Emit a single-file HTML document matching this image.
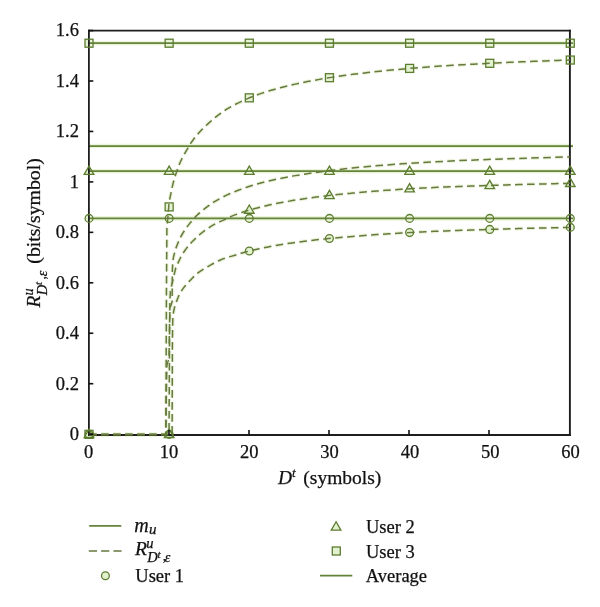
<!DOCTYPE html>
<html><head><meta charset="utf-8"><style>
html,body{margin:0;padding:0;background:#fff;}
svg{display:block;will-change:transform;}
text{font-family:"Liberation Serif",serif;font-size:18.5px;fill:#111;stroke:#111;stroke-width:0.25px;}
</style></head><body>
<svg width="600" height="607" viewBox="0 0 600 607">
<rect width="600" height="607" fill="#fff"/>
<rect x="85.00" y="39.20" width="8.0" height="8.0" fill="#e2f2cf" stroke="none" stroke-width="0"/>
<path d="M89.00,166.05 L93.80,174.36 L84.20,174.36 Z" fill="#e2f2cf" stroke="none" stroke-width="0"/>
<circle cx="89.00" cy="218.40" r="3.9" fill="#e2f2cf" stroke="none" stroke-width="0"/>
<rect x="85.00" y="430.35" width="8.0" height="8.0" fill="#e2f2cf" stroke="none" stroke-width="0"/>
<path d="M89.00,429.20 L93.80,437.51 L84.20,437.51 Z" fill="#e2f2cf" stroke="none" stroke-width="0"/>
<circle cx="89.00" cy="434.35" r="3.9" fill="#e2f2cf" stroke="none" stroke-width="0"/>
<rect x="165.15" y="39.20" width="8.0" height="8.0" fill="#e2f2cf" stroke="none" stroke-width="0"/>
<path d="M169.15,166.05 L173.95,174.36 L164.35,174.36 Z" fill="#e2f2cf" stroke="none" stroke-width="0"/>
<circle cx="169.15" cy="218.40" r="3.9" fill="#e2f2cf" stroke="none" stroke-width="0"/>
<rect x="165.15" y="202.90" width="8.0" height="8.0" fill="#e2f2cf" stroke="none" stroke-width="0"/>
<path d="M169.15,429.20 L173.95,437.51 L164.35,437.51 Z" fill="#e2f2cf" stroke="none" stroke-width="0"/>
<circle cx="169.15" cy="434.35" r="3.9" fill="#e2f2cf" stroke="none" stroke-width="0"/>
<rect x="245.30" y="39.20" width="8.0" height="8.0" fill="#e2f2cf" stroke="none" stroke-width="0"/>
<path d="M249.30,166.05 L254.10,174.36 L244.50,174.36 Z" fill="#e2f2cf" stroke="none" stroke-width="0"/>
<circle cx="249.30" cy="218.40" r="3.9" fill="#e2f2cf" stroke="none" stroke-width="0"/>
<rect x="245.30" y="93.83" width="8.0" height="8.0" fill="#e2f2cf" stroke="none" stroke-width="0"/>
<path d="M249.30,204.95 L254.10,213.27 L244.50,213.27 Z" fill="#e2f2cf" stroke="none" stroke-width="0"/>
<circle cx="249.30" cy="251.01" r="3.9" fill="#e2f2cf" stroke="none" stroke-width="0"/>
<rect x="325.45" y="39.20" width="8.0" height="8.0" fill="#e2f2cf" stroke="none" stroke-width="0"/>
<path d="M329.45,166.05 L334.25,174.36 L324.65,174.36 Z" fill="#e2f2cf" stroke="none" stroke-width="0"/>
<circle cx="329.45" cy="218.40" r="3.9" fill="#e2f2cf" stroke="none" stroke-width="0"/>
<rect x="325.45" y="73.70" width="8.0" height="8.0" fill="#e2f2cf" stroke="none" stroke-width="0"/>
<path d="M329.45,190.34 L334.25,198.66 L324.65,198.66 Z" fill="#e2f2cf" stroke="none" stroke-width="0"/>
<circle cx="329.45" cy="238.50" r="3.9" fill="#e2f2cf" stroke="none" stroke-width="0"/>
<rect x="405.60" y="39.20" width="8.0" height="8.0" fill="#e2f2cf" stroke="none" stroke-width="0"/>
<path d="M409.60,166.05 L414.40,174.36 L404.80,174.36 Z" fill="#e2f2cf" stroke="none" stroke-width="0"/>
<circle cx="409.60" cy="218.40" r="3.9" fill="#e2f2cf" stroke="none" stroke-width="0"/>
<rect x="405.60" y="64.41" width="8.0" height="8.0" fill="#e2f2cf" stroke="none" stroke-width="0"/>
<path d="M409.60,183.63 L414.40,191.94 L404.80,191.94 Z" fill="#e2f2cf" stroke="none" stroke-width="0"/>
<circle cx="409.60" cy="232.58" r="3.9" fill="#e2f2cf" stroke="none" stroke-width="0"/>
<rect x="485.75" y="39.20" width="8.0" height="8.0" fill="#e2f2cf" stroke="none" stroke-width="0"/>
<path d="M489.75,166.05 L494.55,174.36 L484.95,174.36 Z" fill="#e2f2cf" stroke="none" stroke-width="0"/>
<circle cx="489.75" cy="218.40" r="3.9" fill="#e2f2cf" stroke="none" stroke-width="0"/>
<rect x="485.75" y="59.30" width="8.0" height="8.0" fill="#e2f2cf" stroke="none" stroke-width="0"/>
<path d="M489.75,180.31 L494.55,188.62 L484.95,188.62 Z" fill="#e2f2cf" stroke="none" stroke-width="0"/>
<circle cx="489.75" cy="229.41" r="3.9" fill="#e2f2cf" stroke="none" stroke-width="0"/>
<rect x="566.30" y="39.20" width="8.0" height="8.0" fill="#e2f2cf" stroke="none" stroke-width="0"/>
<path d="M570.30,166.05 L575.10,174.36 L565.50,174.36 Z" fill="#e2f2cf" stroke="none" stroke-width="0"/>
<circle cx="570.30" cy="218.40" r="3.9" fill="#e2f2cf" stroke="none" stroke-width="0"/>
<rect x="566.30" y="56.03" width="8.0" height="8.0" fill="#e2f2cf" stroke="none" stroke-width="0"/>
<path d="M570.30,178.18 L575.10,186.49 L565.50,186.49 Z" fill="#e2f2cf" stroke="none" stroke-width="0"/>
<circle cx="570.30" cy="227.40" r="3.9" fill="#e2f2cf" stroke="none" stroke-width="0"/>
<circle cx="105.40" cy="575.70" r="3.9" fill="#e2f2cf" stroke="none" stroke-width="0"/>
<path d="M336.10,521.75 L340.90,530.06 L331.30,530.06 Z" fill="#e2f2cf" stroke="none" stroke-width="0"/>
<rect x="332.30" y="547.00" width="8.0" height="8.0" fill="#e2f2cf" stroke="none" stroke-width="0"/>
<line x1="89.0" y1="43.20" x2="573" y2="43.20" stroke="#ecf4dc" stroke-width="4.6"/>
<line x1="89.0" y1="146.00" x2="573" y2="146.00" stroke="#ecf4dc" stroke-width="4.6"/>
<line x1="89.0" y1="171.20" x2="573" y2="171.20" stroke="#ecf4dc" stroke-width="4.6"/>
<line x1="89.0" y1="218.40" x2="573" y2="218.40" stroke="#ecf4dc" stroke-width="4.6"/>
<path d="M89.00,434.55 L165.90,434.55 L166.40,300.00 L166.90,228.00 L168.30,213.00 L168.70,207.00 L169.00,202.80 L170.03,197.70 L171.06,192.69 L172.09,187.62 L173.13,183.20 L174.16,179.32 L175.19,175.89 L176.22,172.89 L177.25,169.97 L178.28,167.20 L179.31,164.56 L180.35,162.07 L181.38,159.75 L182.41,157.74 L183.44,155.85 L184.47,153.93 L185.50,152.09 L186.53,150.29 L187.57,148.51 L188.60,146.73 L189.63,145.04 L190.66,143.44 L191.69,141.92 L192.72,140.46 L193.75,139.05 L194.79,137.71 L195.82,136.43 L196.85,135.17 L197.88,133.96 L198.91,132.78 L199.94,131.64 L200.97,130.54 L202.01,129.48 L203.04,128.46 L204.07,127.46 L205.10,126.47 L206.13,125.48 L207.16,124.52 L208.19,123.59 L209.23,122.67 L210.83,121.22 L213.85,118.58 L216.86,116.16 L219.88,113.91 L222.90,111.76 L225.92,109.67 L228.93,107.82 L231.95,106.12 L234.97,104.55 L237.98,103.07 L241.00,101.67 L244.02,100.33 L247.04,98.85 L250.05,97.52 L253.07,96.35 L256.09,95.24 L259.11,94.16 L262.12,93.14 L265.14,92.15 L268.16,91.21 L271.18,90.30 L274.19,89.43 L277.21,88.59 L280.23,87.78 L283.25,86.99 L286.26,86.24 L289.28,85.51 L292.30,84.80 L295.32,84.12 L298.33,83.46 L301.35,82.82 L304.37,82.20 L307.39,81.60 L310.40,81.02 L313.42,80.45 L316.44,79.90 L319.45,79.37 L322.47,78.85 L325.49,78.34 L328.51,77.85 L331.52,77.37 L334.54,76.90 L337.56,76.45 L340.58,76.01 L343.59,75.58 L346.61,75.16 L349.63,74.76 L352.65,74.36 L355.66,73.98 L358.68,73.60 L361.70,73.23 L364.72,72.88 L367.73,72.53 L370.75,72.19 L373.77,71.85 L376.79,71.53 L379.80,71.21 L382.82,70.90 L385.84,70.59 L388.86,70.30 L391.87,70.01 L394.89,69.72 L397.91,69.44 L400.92,69.17 L403.94,68.90 L406.96,68.63 L409.98,68.38 L412.99,68.12 L416.01,67.88 L419.03,67.64 L422.05,67.40 L425.06,67.18 L428.08,66.95 L431.10,66.74 L434.12,66.52 L437.13,66.32 L440.15,66.12 L443.17,65.92 L446.19,65.72 L449.20,65.53 L452.22,65.35 L455.24,65.17 L458.26,64.99 L461.27,64.81 L464.29,64.64 L467.31,64.47 L470.33,64.31 L473.34,64.14 L476.36,63.98 L479.38,63.83 L482.40,63.67 L485.41,63.51 L488.43,63.36 L491.45,63.21 L494.46,63.06 L497.48,62.92 L500.50,62.77 L503.52,62.63 L506.53,62.49 L509.55,62.36 L512.57,62.22 L515.59,62.09 L518.60,61.96 L521.62,61.83 L524.64,61.71 L527.66,61.58 L530.67,61.46 L533.69,61.34 L536.71,61.22 L539.73,61.10 L542.74,60.99 L545.76,60.88 L548.78,60.76 L551.80,60.66 L554.81,60.55 L557.83,60.44 L560.85,60.34 L563.87,60.23 L566.88,60.13 L569.90,60.03" fill="none" stroke="#eaf3d8" stroke-width="3.8" stroke-dasharray="7.6 4.4"/>
<path d="M89.00,434.55 L169.00,434.55 L169.60,330.00 L169.90,300.00 L170.40,291.10 L171.40,286.50 L172.60,281.50 L174.40,273.50 L175.80,267.79 L176.66,265.84 L177.51,263.95 L178.37,262.11 L179.23,260.32 L180.09,258.52 L180.94,256.89 L181.80,255.39 L182.66,253.96 L183.51,252.60 L184.37,251.29 L185.23,250.05 L186.08,248.88 L186.94,247.75 L187.80,246.67 L188.66,245.63 L189.51,244.62 L190.37,243.66 L191.23,242.72 L192.08,241.81 L192.94,240.94 L193.80,240.10 L194.66,239.27 L195.51,238.44 L196.37,237.62 L197.23,236.81 L198.08,236.02 L198.94,235.25 L199.80,234.50 L200.65,233.78 L201.51,233.07 L202.37,232.39 L203.23,231.72 L204.08,231.07 L204.94,230.45 L205.80,229.84 L206.65,229.24 L207.51,228.66 L208.37,228.09 L209.23,227.52 L210.83,226.45 L213.85,224.60 L216.86,223.01 L219.88,221.59 L222.90,220.37 L225.92,218.97 L228.93,217.58 L231.95,216.15 L234.97,214.91 L237.98,213.79 L241.00,212.74 L244.02,211.74 L247.04,210.79 L250.05,209.89 L253.07,209.03 L256.09,208.21 L259.11,207.42 L262.12,206.67 L265.14,205.95 L268.16,205.26 L271.18,204.60 L274.19,203.97 L277.21,203.35 L280.23,202.76 L283.25,202.19 L286.26,201.65 L289.28,201.12 L292.30,200.61 L295.32,200.11 L298.33,199.64 L301.35,199.17 L304.37,198.73 L307.39,198.29 L310.40,197.87 L313.42,197.47 L316.44,197.07 L319.45,196.69 L322.47,196.32 L325.49,195.96 L328.51,195.60 L331.52,195.26 L334.54,194.93 L337.56,194.61 L340.58,194.29 L343.59,193.98 L346.61,193.68 L349.63,193.39 L352.65,193.10 L355.66,192.82 L358.68,192.55 L361.70,192.29 L364.72,192.03 L367.73,191.77 L370.75,191.52 L373.77,191.28 L376.79,191.04 L379.80,190.81 L382.82,190.59 L385.84,190.36 L388.86,190.15 L391.87,189.94 L394.89,189.73 L397.91,189.53 L400.92,189.33 L403.94,189.13 L406.96,188.95 L409.98,188.76 L412.99,188.58 L416.01,188.41 L419.03,188.24 L422.05,188.08 L425.06,187.93 L428.08,187.78 L431.10,187.63 L434.12,187.50 L437.13,187.36 L440.15,187.23 L443.17,187.10 L446.19,186.98 L449.20,186.86 L452.22,186.75 L455.24,186.63 L458.26,186.52 L461.27,186.41 L464.29,186.31 L467.31,186.20 L470.33,186.10 L473.34,186.00 L476.36,185.90 L479.38,185.80 L482.40,185.70 L485.41,185.61 L488.43,185.51 L491.45,185.41 L494.46,185.31 L497.48,185.22 L500.50,185.13 L503.52,185.03 L506.53,184.94 L509.55,184.86 L512.57,184.77 L515.59,184.68 L518.60,184.60 L521.62,184.51 L524.64,184.43 L527.66,184.35 L530.67,184.27 L533.69,184.19 L536.71,184.12 L539.73,184.04 L542.74,183.96 L545.76,183.89 L548.78,183.82 L551.80,183.75 L554.81,183.67 L557.83,183.60 L560.85,183.54 L563.87,183.47 L566.88,183.40 L569.90,183.33" fill="none" stroke="#eaf3d8" stroke-width="3.8" stroke-dasharray="7.6 4.4"/>
<path d="M89.00,434.55 L172.10,434.55 L172.40,340.00 L172.80,318.00 L173.60,311.50 L174.70,306.76 L175.59,304.10 L176.47,301.61 L177.36,299.25 L178.24,297.04 L179.13,295.20 L180.01,293.52 L180.90,291.95 L181.78,290.47 L182.67,289.07 L183.55,287.86 L184.44,286.82 L185.32,285.80 L186.21,284.75 L187.09,283.74 L187.98,282.77 L188.86,281.81 L189.75,280.86 L190.63,279.90 L191.52,278.95 L192.41,278.03 L193.29,277.15 L194.18,276.30 L195.06,275.47 L195.95,274.68 L196.83,273.91 L197.72,273.17 L198.60,272.47 L199.49,271.82 L200.37,271.21 L201.26,270.63 L202.14,270.06 L203.03,269.49 L203.91,268.93 L204.80,268.38 L205.68,267.85 L206.57,267.33 L207.45,266.82 L208.34,266.31 L209.23,265.82 L210.83,264.90 L213.85,263.23 L216.86,261.67 L219.88,260.22 L222.90,258.89 L225.92,257.83 L228.93,256.94 L231.95,256.11 L234.97,255.22 L237.98,254.27 L241.00,253.34 L244.02,252.44 L247.04,251.60 L250.05,250.83 L253.07,250.10 L256.09,249.40 L259.11,248.73 L262.12,248.09 L265.14,247.48 L268.16,246.89 L271.18,246.33 L274.19,245.78 L277.21,245.26 L280.23,244.75 L283.25,244.26 L286.26,243.79 L289.28,243.34 L292.30,242.90 L295.32,242.48 L298.33,242.07 L301.35,241.67 L304.37,241.28 L307.39,240.91 L310.40,240.55 L313.42,240.20 L316.44,239.86 L319.45,239.53 L322.47,239.21 L325.49,238.89 L328.51,238.59 L331.52,238.30 L334.54,238.01 L337.56,237.73 L340.58,237.46 L343.59,237.19 L346.61,236.93 L349.63,236.67 L352.65,236.42 L355.66,236.18 L358.68,235.94 L361.70,235.71 L364.72,235.48 L367.73,235.26 L370.75,235.04 L373.77,234.82 L376.79,234.61 L379.80,234.41 L382.82,234.21 L385.84,234.01 L388.86,233.81 L391.87,233.62 L394.89,233.44 L397.91,233.25 L400.92,233.07 L403.94,232.90 L406.96,232.72 L409.98,232.55 L412.99,232.39 L416.01,232.23 L419.03,232.08 L422.05,231.93 L425.06,231.78 L428.08,231.64 L431.10,231.50 L434.12,231.37 L437.13,231.24 L440.15,231.12 L443.17,231.00 L446.19,230.88 L449.20,230.77 L452.22,230.65 L455.24,230.54 L458.26,230.44 L461.27,230.33 L464.29,230.23 L467.31,230.13 L470.33,230.03 L473.34,229.93 L476.36,229.83 L479.38,229.74 L482.40,229.64 L485.41,229.55 L488.43,229.45 L491.45,229.36 L494.46,229.27 L497.48,229.18 L500.50,229.09 L503.52,229.00 L506.53,228.91 L509.55,228.83 L512.57,228.75 L515.59,228.66 L518.60,228.58 L521.62,228.51 L524.64,228.43 L527.66,228.35 L530.67,228.28 L533.69,228.20 L536.71,228.13 L539.73,228.06 L542.74,227.99 L545.76,227.92 L548.78,227.85 L551.80,227.78 L554.81,227.71 L557.83,227.65 L560.85,227.59 L563.87,227.52 L566.88,227.46 L569.90,227.40" fill="none" stroke="#eaf3d8" stroke-width="3.8" stroke-dasharray="7.6 4.4"/>
<path d="M89.00,434.55 L165.86,434.55 L166.38,390.79 L166.91,365.41 L168.31,360.39 L168.99,357.08 L169.59,321.87 L169.91,310.75 L170.39,307.11 L172.08,301.85 L172.40,269.95 L172.80,261.12 L173.60,256.65 L174.68,252.24 L175.80,248.44 L178.05,242.70 L180.01,238.35 L181.61,235.24 L183.58,231.97 L186.18,228.14 L189.15,224.12 L191.91,220.71 L194.44,217.90 L197.68,214.59 L200.61,211.93 L205.38,208.12 L211.11,203.99 L214.11,201.96 L217.68,199.80 L220.93,198.02 L226.58,195.17 L232.27,192.66 L237.56,190.54 L248.90,186.44 L255.59,184.42 L262.64,182.50 L269.82,180.73 L277.35,179.04 L293.62,175.87 L311.58,172.97 L331.33,170.33 L352.45,167.98 L375.58,165.83 L401.87,163.79 L427.15,162.18 L455.93,160.75 L494.60,159.21 L530.67,158.00 L569.90,156.92" fill="none" stroke="#eaf3d8" stroke-width="3.8" stroke-dasharray="7.6 4.4"/>
<line x1="89.0" y1="43.20" x2="573" y2="43.20" stroke="#64843a" stroke-width="1.75"/>
<line x1="89.0" y1="146.00" x2="573" y2="146.00" stroke="#64843a" stroke-width="1.75"/>
<line x1="89.0" y1="171.20" x2="573" y2="171.20" stroke="#64843a" stroke-width="1.75"/>
<line x1="89.0" y1="218.40" x2="573" y2="218.40" stroke="#64843a" stroke-width="1.75"/>
<line x1="88.9" y1="29.8" x2="88.9" y2="435.9" stroke="#1e1e1e" stroke-width="1.8"/><line x1="569.9" y1="29.8" x2="569.9" y2="435.9" stroke="#1e1e1e" stroke-width="1.9"/><line x1="88.0" y1="30.6" x2="570.85" y2="30.6" stroke="#1e1e1e" stroke-width="1.6"/><line x1="88.0" y1="434.95" x2="570.85" y2="434.95" stroke="#1e1e1e" stroke-width="1.9"/>
<path d="M89.00,434.55 L165.90,434.55 L166.40,300.00 L166.90,228.00 L168.30,213.00 L168.70,207.00 L169.00,202.80 L170.03,197.70 L171.06,192.69 L172.09,187.62 L173.13,183.20 L174.16,179.32 L175.19,175.89 L176.22,172.89 L177.25,169.97 L178.28,167.20 L179.31,164.56 L180.35,162.07 L181.38,159.75 L182.41,157.74 L183.44,155.85 L184.47,153.93 L185.50,152.09 L186.53,150.29 L187.57,148.51 L188.60,146.73 L189.63,145.04 L190.66,143.44 L191.69,141.92 L192.72,140.46 L193.75,139.05 L194.79,137.71 L195.82,136.43 L196.85,135.17 L197.88,133.96 L198.91,132.78 L199.94,131.64 L200.97,130.54 L202.01,129.48 L203.04,128.46 L204.07,127.46 L205.10,126.47 L206.13,125.48 L207.16,124.52 L208.19,123.59 L209.23,122.67 L210.83,121.22 L213.85,118.58 L216.86,116.16 L219.88,113.91 L222.90,111.76 L225.92,109.67 L228.93,107.82 L231.95,106.12 L234.97,104.55 L237.98,103.07 L241.00,101.67 L244.02,100.33 L247.04,98.85 L250.05,97.52 L253.07,96.35 L256.09,95.24 L259.11,94.16 L262.12,93.14 L265.14,92.15 L268.16,91.21 L271.18,90.30 L274.19,89.43 L277.21,88.59 L280.23,87.78 L283.25,86.99 L286.26,86.24 L289.28,85.51 L292.30,84.80 L295.32,84.12 L298.33,83.46 L301.35,82.82 L304.37,82.20 L307.39,81.60 L310.40,81.02 L313.42,80.45 L316.44,79.90 L319.45,79.37 L322.47,78.85 L325.49,78.34 L328.51,77.85 L331.52,77.37 L334.54,76.90 L337.56,76.45 L340.58,76.01 L343.59,75.58 L346.61,75.16 L349.63,74.76 L352.65,74.36 L355.66,73.98 L358.68,73.60 L361.70,73.23 L364.72,72.88 L367.73,72.53 L370.75,72.19 L373.77,71.85 L376.79,71.53 L379.80,71.21 L382.82,70.90 L385.84,70.59 L388.86,70.30 L391.87,70.01 L394.89,69.72 L397.91,69.44 L400.92,69.17 L403.94,68.90 L406.96,68.63 L409.98,68.38 L412.99,68.12 L416.01,67.88 L419.03,67.64 L422.05,67.40 L425.06,67.18 L428.08,66.95 L431.10,66.74 L434.12,66.52 L437.13,66.32 L440.15,66.12 L443.17,65.92 L446.19,65.72 L449.20,65.53 L452.22,65.35 L455.24,65.17 L458.26,64.99 L461.27,64.81 L464.29,64.64 L467.31,64.47 L470.33,64.31 L473.34,64.14 L476.36,63.98 L479.38,63.83 L482.40,63.67 L485.41,63.51 L488.43,63.36 L491.45,63.21 L494.46,63.06 L497.48,62.92 L500.50,62.77 L503.52,62.63 L506.53,62.49 L509.55,62.36 L512.57,62.22 L515.59,62.09 L518.60,61.96 L521.62,61.83 L524.64,61.71 L527.66,61.58 L530.67,61.46 L533.69,61.34 L536.71,61.22 L539.73,61.10 L542.74,60.99 L545.76,60.88 L548.78,60.76 L551.80,60.66 L554.81,60.55 L557.83,60.44 L560.85,60.34 L563.87,60.23 L566.88,60.13 L569.90,60.03" fill="none" stroke="#66793f" stroke-width="1.5" stroke-dasharray="7.6 4.4"/>
<path d="M89.00,434.55 L169.00,434.55 L169.60,330.00 L169.90,300.00 L170.40,291.10 L171.40,286.50 L172.60,281.50 L174.40,273.50 L175.80,267.79 L176.66,265.84 L177.51,263.95 L178.37,262.11 L179.23,260.32 L180.09,258.52 L180.94,256.89 L181.80,255.39 L182.66,253.96 L183.51,252.60 L184.37,251.29 L185.23,250.05 L186.08,248.88 L186.94,247.75 L187.80,246.67 L188.66,245.63 L189.51,244.62 L190.37,243.66 L191.23,242.72 L192.08,241.81 L192.94,240.94 L193.80,240.10 L194.66,239.27 L195.51,238.44 L196.37,237.62 L197.23,236.81 L198.08,236.02 L198.94,235.25 L199.80,234.50 L200.65,233.78 L201.51,233.07 L202.37,232.39 L203.23,231.72 L204.08,231.07 L204.94,230.45 L205.80,229.84 L206.65,229.24 L207.51,228.66 L208.37,228.09 L209.23,227.52 L210.83,226.45 L213.85,224.60 L216.86,223.01 L219.88,221.59 L222.90,220.37 L225.92,218.97 L228.93,217.58 L231.95,216.15 L234.97,214.91 L237.98,213.79 L241.00,212.74 L244.02,211.74 L247.04,210.79 L250.05,209.89 L253.07,209.03 L256.09,208.21 L259.11,207.42 L262.12,206.67 L265.14,205.95 L268.16,205.26 L271.18,204.60 L274.19,203.97 L277.21,203.35 L280.23,202.76 L283.25,202.19 L286.26,201.65 L289.28,201.12 L292.30,200.61 L295.32,200.11 L298.33,199.64 L301.35,199.17 L304.37,198.73 L307.39,198.29 L310.40,197.87 L313.42,197.47 L316.44,197.07 L319.45,196.69 L322.47,196.32 L325.49,195.96 L328.51,195.60 L331.52,195.26 L334.54,194.93 L337.56,194.61 L340.58,194.29 L343.59,193.98 L346.61,193.68 L349.63,193.39 L352.65,193.10 L355.66,192.82 L358.68,192.55 L361.70,192.29 L364.72,192.03 L367.73,191.77 L370.75,191.52 L373.77,191.28 L376.79,191.04 L379.80,190.81 L382.82,190.59 L385.84,190.36 L388.86,190.15 L391.87,189.94 L394.89,189.73 L397.91,189.53 L400.92,189.33 L403.94,189.13 L406.96,188.95 L409.98,188.76 L412.99,188.58 L416.01,188.41 L419.03,188.24 L422.05,188.08 L425.06,187.93 L428.08,187.78 L431.10,187.63 L434.12,187.50 L437.13,187.36 L440.15,187.23 L443.17,187.10 L446.19,186.98 L449.20,186.86 L452.22,186.75 L455.24,186.63 L458.26,186.52 L461.27,186.41 L464.29,186.31 L467.31,186.20 L470.33,186.10 L473.34,186.00 L476.36,185.90 L479.38,185.80 L482.40,185.70 L485.41,185.61 L488.43,185.51 L491.45,185.41 L494.46,185.31 L497.48,185.22 L500.50,185.13 L503.52,185.03 L506.53,184.94 L509.55,184.86 L512.57,184.77 L515.59,184.68 L518.60,184.60 L521.62,184.51 L524.64,184.43 L527.66,184.35 L530.67,184.27 L533.69,184.19 L536.71,184.12 L539.73,184.04 L542.74,183.96 L545.76,183.89 L548.78,183.82 L551.80,183.75 L554.81,183.67 L557.83,183.60 L560.85,183.54 L563.87,183.47 L566.88,183.40 L569.90,183.33" fill="none" stroke="#66793f" stroke-width="1.5" stroke-dasharray="7.6 4.4"/>
<path d="M89.00,434.55 L172.10,434.55 L172.40,340.00 L172.80,318.00 L173.60,311.50 L174.70,306.76 L175.59,304.10 L176.47,301.61 L177.36,299.25 L178.24,297.04 L179.13,295.20 L180.01,293.52 L180.90,291.95 L181.78,290.47 L182.67,289.07 L183.55,287.86 L184.44,286.82 L185.32,285.80 L186.21,284.75 L187.09,283.74 L187.98,282.77 L188.86,281.81 L189.75,280.86 L190.63,279.90 L191.52,278.95 L192.41,278.03 L193.29,277.15 L194.18,276.30 L195.06,275.47 L195.95,274.68 L196.83,273.91 L197.72,273.17 L198.60,272.47 L199.49,271.82 L200.37,271.21 L201.26,270.63 L202.14,270.06 L203.03,269.49 L203.91,268.93 L204.80,268.38 L205.68,267.85 L206.57,267.33 L207.45,266.82 L208.34,266.31 L209.23,265.82 L210.83,264.90 L213.85,263.23 L216.86,261.67 L219.88,260.22 L222.90,258.89 L225.92,257.83 L228.93,256.94 L231.95,256.11 L234.97,255.22 L237.98,254.27 L241.00,253.34 L244.02,252.44 L247.04,251.60 L250.05,250.83 L253.07,250.10 L256.09,249.40 L259.11,248.73 L262.12,248.09 L265.14,247.48 L268.16,246.89 L271.18,246.33 L274.19,245.78 L277.21,245.26 L280.23,244.75 L283.25,244.26 L286.26,243.79 L289.28,243.34 L292.30,242.90 L295.32,242.48 L298.33,242.07 L301.35,241.67 L304.37,241.28 L307.39,240.91 L310.40,240.55 L313.42,240.20 L316.44,239.86 L319.45,239.53 L322.47,239.21 L325.49,238.89 L328.51,238.59 L331.52,238.30 L334.54,238.01 L337.56,237.73 L340.58,237.46 L343.59,237.19 L346.61,236.93 L349.63,236.67 L352.65,236.42 L355.66,236.18 L358.68,235.94 L361.70,235.71 L364.72,235.48 L367.73,235.26 L370.75,235.04 L373.77,234.82 L376.79,234.61 L379.80,234.41 L382.82,234.21 L385.84,234.01 L388.86,233.81 L391.87,233.62 L394.89,233.44 L397.91,233.25 L400.92,233.07 L403.94,232.90 L406.96,232.72 L409.98,232.55 L412.99,232.39 L416.01,232.23 L419.03,232.08 L422.05,231.93 L425.06,231.78 L428.08,231.64 L431.10,231.50 L434.12,231.37 L437.13,231.24 L440.15,231.12 L443.17,231.00 L446.19,230.88 L449.20,230.77 L452.22,230.65 L455.24,230.54 L458.26,230.44 L461.27,230.33 L464.29,230.23 L467.31,230.13 L470.33,230.03 L473.34,229.93 L476.36,229.83 L479.38,229.74 L482.40,229.64 L485.41,229.55 L488.43,229.45 L491.45,229.36 L494.46,229.27 L497.48,229.18 L500.50,229.09 L503.52,229.00 L506.53,228.91 L509.55,228.83 L512.57,228.75 L515.59,228.66 L518.60,228.58 L521.62,228.51 L524.64,228.43 L527.66,228.35 L530.67,228.28 L533.69,228.20 L536.71,228.13 L539.73,228.06 L542.74,227.99 L545.76,227.92 L548.78,227.85 L551.80,227.78 L554.81,227.71 L557.83,227.65 L560.85,227.59 L563.87,227.52 L566.88,227.46 L569.90,227.40" fill="none" stroke="#66793f" stroke-width="1.5" stroke-dasharray="7.6 4.4"/>
<path d="M89.00,434.55 L165.86,434.55 L166.38,390.79 L166.91,365.41 L168.31,360.39 L168.99,357.08 L169.59,321.87 L169.91,310.75 L170.39,307.11 L172.08,301.85 L172.40,269.95 L172.80,261.12 L173.60,256.65 L174.68,252.24 L175.80,248.44 L178.05,242.70 L180.01,238.35 L181.61,235.24 L183.58,231.97 L186.18,228.14 L189.15,224.12 L191.91,220.71 L194.44,217.90 L197.68,214.59 L200.61,211.93 L205.38,208.12 L211.11,203.99 L214.11,201.96 L217.68,199.80 L220.93,198.02 L226.58,195.17 L232.27,192.66 L237.56,190.54 L248.90,186.44 L255.59,184.42 L262.64,182.50 L269.82,180.73 L277.35,179.04 L293.62,175.87 L311.58,172.97 L331.33,170.33 L352.45,167.98 L375.58,165.83 L401.87,163.79 L427.15,162.18 L455.93,160.75 L494.60,159.21 L530.67,158.00 L569.90,156.92" fill="none" stroke="#66793f" stroke-width="1.5" stroke-dasharray="7.6 4.4"/>
<rect x="85.00" y="39.20" width="8.0" height="8.0" fill="none" stroke="#5c7c30" stroke-width="1.3"/>
<path d="M89.00,166.05 L93.80,174.36 L84.20,174.36 Z" fill="none" stroke="#5c7c30" stroke-width="1.3"/>
<circle cx="89.00" cy="218.40" r="3.9" fill="none" stroke="#5c7c30" stroke-width="1.3"/>
<rect x="85.00" y="430.35" width="8.0" height="8.0" fill="none" stroke="#5c7c30" stroke-width="1.3"/>
<path d="M89.00,429.20 L93.80,437.51 L84.20,437.51 Z" fill="none" stroke="#5c7c30" stroke-width="1.3"/>
<circle cx="89.00" cy="434.35" r="3.9" fill="none" stroke="#5c7c30" stroke-width="1.3"/>
<rect x="165.15" y="39.20" width="8.0" height="8.0" fill="none" stroke="#5c7c30" stroke-width="1.3"/>
<path d="M169.15,166.05 L173.95,174.36 L164.35,174.36 Z" fill="none" stroke="#5c7c30" stroke-width="1.3"/>
<circle cx="169.15" cy="218.40" r="3.9" fill="none" stroke="#5c7c30" stroke-width="1.3"/>
<rect x="165.15" y="202.90" width="8.0" height="8.0" fill="none" stroke="#5c7c30" stroke-width="1.3"/>
<path d="M169.15,429.20 L173.95,437.51 L164.35,437.51 Z" fill="none" stroke="#5c7c30" stroke-width="1.3"/>
<circle cx="169.15" cy="434.35" r="3.9" fill="none" stroke="#5c7c30" stroke-width="1.3"/>
<rect x="245.30" y="39.20" width="8.0" height="8.0" fill="none" stroke="#5c7c30" stroke-width="1.3"/>
<path d="M249.30,166.05 L254.10,174.36 L244.50,174.36 Z" fill="none" stroke="#5c7c30" stroke-width="1.3"/>
<circle cx="249.30" cy="218.40" r="3.9" fill="none" stroke="#5c7c30" stroke-width="1.3"/>
<rect x="245.30" y="93.83" width="8.0" height="8.0" fill="none" stroke="#5c7c30" stroke-width="1.3"/>
<path d="M249.30,204.95 L254.10,213.27 L244.50,213.27 Z" fill="none" stroke="#5c7c30" stroke-width="1.3"/>
<circle cx="249.30" cy="251.01" r="3.9" fill="none" stroke="#5c7c30" stroke-width="1.3"/>
<rect x="325.45" y="39.20" width="8.0" height="8.0" fill="none" stroke="#5c7c30" stroke-width="1.3"/>
<path d="M329.45,166.05 L334.25,174.36 L324.65,174.36 Z" fill="none" stroke="#5c7c30" stroke-width="1.3"/>
<circle cx="329.45" cy="218.40" r="3.9" fill="none" stroke="#5c7c30" stroke-width="1.3"/>
<rect x="325.45" y="73.70" width="8.0" height="8.0" fill="none" stroke="#5c7c30" stroke-width="1.3"/>
<path d="M329.45,190.34 L334.25,198.66 L324.65,198.66 Z" fill="none" stroke="#5c7c30" stroke-width="1.3"/>
<circle cx="329.45" cy="238.50" r="3.9" fill="none" stroke="#5c7c30" stroke-width="1.3"/>
<rect x="405.60" y="39.20" width="8.0" height="8.0" fill="none" stroke="#5c7c30" stroke-width="1.3"/>
<path d="M409.60,166.05 L414.40,174.36 L404.80,174.36 Z" fill="none" stroke="#5c7c30" stroke-width="1.3"/>
<circle cx="409.60" cy="218.40" r="3.9" fill="none" stroke="#5c7c30" stroke-width="1.3"/>
<rect x="405.60" y="64.41" width="8.0" height="8.0" fill="none" stroke="#5c7c30" stroke-width="1.3"/>
<path d="M409.60,183.63 L414.40,191.94 L404.80,191.94 Z" fill="none" stroke="#5c7c30" stroke-width="1.3"/>
<circle cx="409.60" cy="232.58" r="3.9" fill="none" stroke="#5c7c30" stroke-width="1.3"/>
<rect x="485.75" y="39.20" width="8.0" height="8.0" fill="none" stroke="#5c7c30" stroke-width="1.3"/>
<path d="M489.75,166.05 L494.55,174.36 L484.95,174.36 Z" fill="none" stroke="#5c7c30" stroke-width="1.3"/>
<circle cx="489.75" cy="218.40" r="3.9" fill="none" stroke="#5c7c30" stroke-width="1.3"/>
<rect x="485.75" y="59.30" width="8.0" height="8.0" fill="none" stroke="#5c7c30" stroke-width="1.3"/>
<path d="M489.75,180.31 L494.55,188.62 L484.95,188.62 Z" fill="none" stroke="#5c7c30" stroke-width="1.3"/>
<circle cx="489.75" cy="229.41" r="3.9" fill="none" stroke="#5c7c30" stroke-width="1.3"/>
<rect x="566.30" y="39.20" width="8.0" height="8.0" fill="none" stroke="#5c7c30" stroke-width="1.3"/>
<path d="M570.30,166.05 L575.10,174.36 L565.50,174.36 Z" fill="none" stroke="#5c7c30" stroke-width="1.3"/>
<circle cx="570.30" cy="218.40" r="3.9" fill="none" stroke="#5c7c30" stroke-width="1.3"/>
<rect x="566.30" y="56.03" width="8.0" height="8.0" fill="none" stroke="#5c7c30" stroke-width="1.3"/>
<path d="M570.30,178.18 L575.10,186.49 L565.50,186.49 Z" fill="none" stroke="#5c7c30" stroke-width="1.3"/>
<circle cx="570.30" cy="227.40" r="3.9" fill="none" stroke="#5c7c30" stroke-width="1.3"/>
<line x1="88.9" y1="434.15" x2="93.3" y2="434.15" stroke="#111" stroke-width="1.6"/>
<line x1="88.9" y1="383.70" x2="93.3" y2="383.70" stroke="#111" stroke-width="1.6"/>
<line x1="88.9" y1="333.25" x2="93.3" y2="333.25" stroke="#111" stroke-width="1.6"/>
<line x1="88.9" y1="282.80" x2="93.3" y2="282.80" stroke="#111" stroke-width="1.6"/>
<line x1="88.9" y1="232.35" x2="93.3" y2="232.35" stroke="#111" stroke-width="1.6"/>
<line x1="88.9" y1="181.90" x2="93.3" y2="181.90" stroke="#111" stroke-width="1.6"/>
<line x1="88.9" y1="131.45" x2="93.3" y2="131.45" stroke="#111" stroke-width="1.6"/>
<line x1="88.9" y1="81.00" x2="93.3" y2="81.00" stroke="#111" stroke-width="1.6"/>
<line x1="88.9" y1="30.55" x2="93.3" y2="30.55" stroke="#111" stroke-width="1.6"/>
<line x1="169.00" y1="434.95" x2="169.00" y2="430.1" stroke="#111" stroke-width="1.6"/>
<line x1="249.00" y1="434.95" x2="249.00" y2="430.1" stroke="#111" stroke-width="1.6"/>
<line x1="329.00" y1="434.95" x2="329.00" y2="430.1" stroke="#111" stroke-width="1.6"/>
<line x1="409.00" y1="434.95" x2="409.00" y2="430.1" stroke="#111" stroke-width="1.6"/>
<line x1="489.00" y1="434.95" x2="489.00" y2="430.1" stroke="#111" stroke-width="1.6"/>
<text x="78.9" y="440.05" text-anchor="end">0</text>
<text x="78.9" y="389.60" text-anchor="end">0.2</text>
<text x="78.9" y="339.15" text-anchor="end">0.4</text>
<text x="78.9" y="288.70" text-anchor="end">0.6</text>
<text x="78.9" y="238.25" text-anchor="end">0.8</text>
<text x="78.9" y="187.80" text-anchor="end">1</text>
<text x="78.9" y="137.35" text-anchor="end">1.2</text>
<text x="78.9" y="86.90" text-anchor="end">1.4</text>
<text x="78.9" y="36.45" text-anchor="end">1.6</text>
<text x="88.70" y="457.8" text-anchor="middle">0</text>
<text x="169.00" y="457.8" text-anchor="middle">10</text>
<text x="249.30" y="457.8" text-anchor="middle">20</text>
<text x="329.60" y="457.8" text-anchor="middle">30</text>
<text x="409.90" y="457.8" text-anchor="middle">40</text>
<text x="490.20" y="457.8" text-anchor="middle">50</text>
<text x="570.50" y="457.8" text-anchor="middle">60</text>
<text x="277.90" y="484.30" style="font-size:19.5px;font-style:italic">D</text>
<text x="292.10" y="477.30" style="font-size:13px;font-style:italic">t</text>
<text x="303.35" y="484.20" style="font-size:19.5px">(symbols)</text>
<g transform="translate(40.3,307.4) rotate(-90)"><text x="-0.10" y="0.00" style="font-size:19.5px;font-style:italic">R</text><text x="11.99" y="-7.50" style="font-size:14.3px;font-style:italic">u</text><text x="12.06" y="6.80" style="font-size:14.5px;font-style:italic">D</text><text x="22.40" y="2.10" style="font-size:11px;font-style:italic">t</text><text x="27.80" y="6.10" style="font-size:14px">,</text><text x="31.20" y="6.80" style="font-size:14px;font-style:italic">ε</text><text x="43.73" y="0.00" style="font-size:19.8px">(bits/symbol)</text></g>
<line x1="89.2" y1="525.8" x2="121.3" y2="525.8" stroke="#64843a" stroke-width="1.75"/>
<line x1="88.8" y1="551.0" x2="121.6" y2="551.0" stroke="#66793f" stroke-width="1.5" stroke-dasharray="8.2 4.1"/>
<circle cx="105.40" cy="575.70" r="3.9" fill="none" stroke="#5c7c30" stroke-width="1.3"/>
<path d="M336.10,521.75 L340.90,530.06 L331.30,530.06 Z" fill="none" stroke="#5c7c30" stroke-width="1.3"/>
<rect x="332.30" y="547.00" width="8.0" height="8.0" fill="none" stroke="#5c7c30" stroke-width="1.3"/>
<line x1="320" y1="575.7" x2="352.3" y2="575.7" stroke="#64843a" stroke-width="1.75"/>
<text x="134.30" y="531.70" style="font-size:20px;font-style:italic">m</text>
<text x="148.95" y="534.00" style="font-size:15px;font-style:italic">u</text>
<text x="135.10" y="555.00" style="font-size:19.5px;font-style:italic">R</text>
<text x="146.30" y="547.60" style="font-size:14.5px;font-style:italic">u</text>
<text x="147.15" y="561.75" style="font-size:14.5px;font-style:italic">D</text>
<text x="157.50" y="557.50" style="font-size:11px;font-style:italic">t</text>
<text x="162.70" y="561.00" style="font-size:14px">,</text>
<text x="164.70" y="561.90" style="font-size:14px;font-style:italic">ε</text>
<text x="135.30" y="581.90" style="font-size:18.5px">User 1</text>
<text x="365.90" y="532.90" style="font-size:18.5px">User 2</text>
<text x="365.90" y="557.50" style="font-size:18.5px">User 3</text>
<text x="365.80" y="581.80" style="font-size:18.5px">Average</text>
</svg>
</body></html>
